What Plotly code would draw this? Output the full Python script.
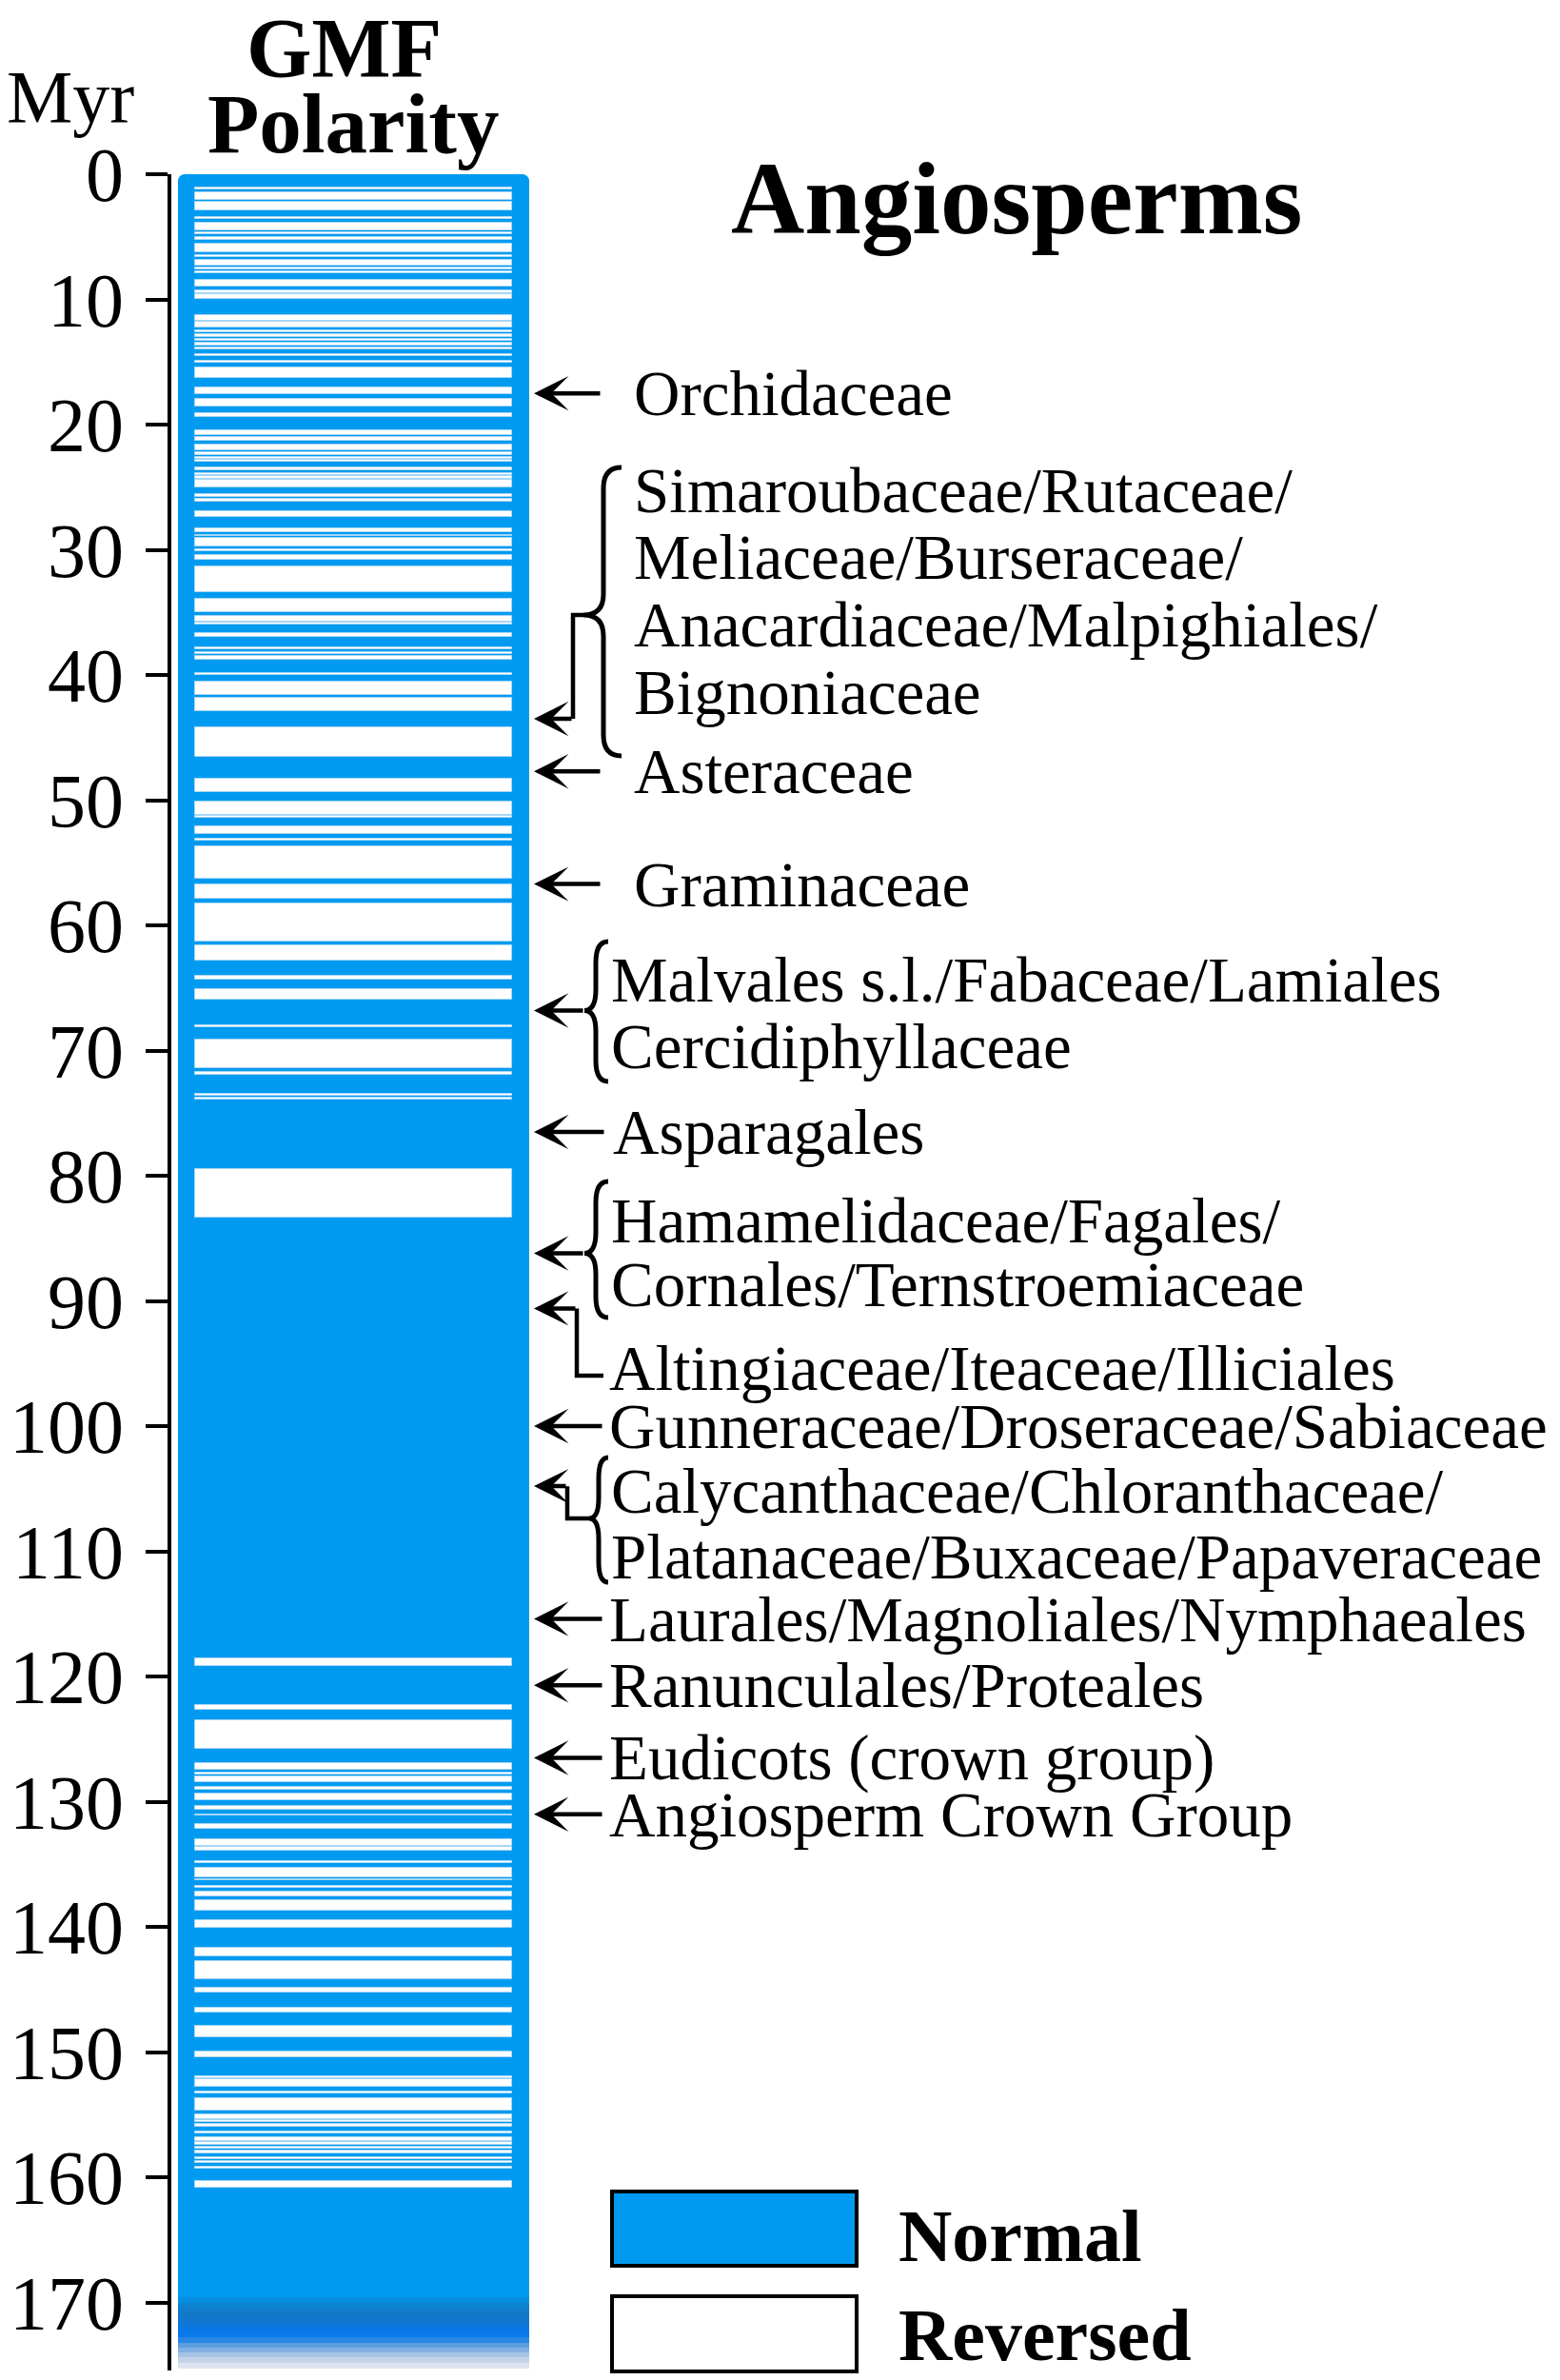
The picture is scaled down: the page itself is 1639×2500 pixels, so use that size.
import plotly.graph_objects as go

# ---------------- data ----------------
# geomagnetic polarity: reversed-polarity intervals (Myr), everything else normal
rev_start = [1.09, 1.42, 2.23, 3.45, 3.90, 4.64, 5.00, 5.55, 6.46, 6.87, 7.45, 7.78, 8.42, 9.30, 9.61,
             11.28, 11.81, 12.45, 12.75, 13.13, 13.46, 13.84, 14.35, 14.93, 15.44, 17.06, 17.95, 19.09,
             20.46, 20.96, 21.62, 22.21, 22.59, 22.79, 23.40, 23.85, 24.11, 24.44, 25.55, 25.96, 26.92,
             28.29, 28.80, 29.07, 29.96, 30.44, 31.31, 33.94, 35.26, 35.84, 36.68, 37.79, 38.17, 38.45,
             39.85, 40.51, 41.85, 44.18, 48.26, 50.09, 51.25, 52.09, 53.05, 53.71, 56.75, 58.25, 61.62,
             64.05, 65.12, 68.01, 69.15, 71.74, 73.43, 73.79, 79.49,
             118.53, 122.26, 123.50, 126.94, 127.68, 127.98, 128.82, 129.38, 130.32, 131.00, 131.79,
             133.00, 133.61, 134.75, 135.26, 136.17, 136.73, 137.16, 137.90, 139.49, 141.67, 142.74,
             144.84, 146.46, 147.93, 149.94, 151.92, 152.17, 153.13, 153.69, 155.00, 155.41, 155.74,
             156.33, 156.78, 157.19, 157.57, 157.90, 158.38, 158.71, 159.14, 160.28]
rev_end = [1.19, 2.05, 2.87, 3.57, 4.46, 4.79, 5.25, 6.21, 6.59, 7.28, 7.63, 7.93, 9.00, 9.48, 9.96,
           11.69, 12.24, 12.60, 13.00, 13.33, 13.66, 14.02, 14.52, 15.08, 16.30, 17.57, 18.58, 19.37,
           20.86, 21.27, 22.03, 22.43, 22.74, 22.94, 23.68, 24.00, 24.31, 25.04, 25.80, 26.13, 27.35,
           28.59, 28.92, 29.71, 30.09, 30.78, 33.36, 34.98, 35.72, 35.97, 36.96, 37.95, 38.30, 38.76,
           39.98, 41.57, 42.87, 46.56, 49.38, 51.18, 51.38, 52.70, 53.21, 56.25, 57.89, 61.27, 62.84,
           64.33, 65.93, 68.14, 71.41, 71.96, 73.64, 73.94, 83.37,
           119.16, 122.66, 125.80, 127.48, 127.81, 128.42, 129.07, 129.89, 130.62, 131.10, 132.14,
           133.51, 133.94, 134.88, 136.05, 136.30, 136.86, 137.57, 138.73, 140.08, 142.36, 144.21,
           145.27, 146.87, 148.84, 150.39, 152.07, 152.75, 153.33, 154.65, 155.33, 155.59, 155.97,
           156.53, 157.09, 157.39, 157.74, 158.10, 158.53, 158.86, 159.34, 160.81]
record_top = 0.0
fade_edges = [169.6, 170.0, 170.4, 170.8, 171.2, 171.6, 172.0, 172.4, 172.8, 173.2, 173.6, 174.0,
              174.4, 174.8, 175.3]
fade_colors = ["#068ee0", "#0c84d4", "#117ccc", "#1478c8", "#1277cf", "#0d77db", "#0978e6", "#0a7aea",
               "#2a88e4", "#5a9ee0", "#82b0e2", "#a8c4e4", "#c4d4e8", "#dde4ee"]
tick_vals = [0, 10, 20, 30, 40, 50, 60, 70, 80, 90, 100, 110, 120, 130, 140, 150, 160, 170]
tick_text = [str(v) for v in tick_vals]

single_labels = ["Orchidaceae", "Asteraceae", "Graminaceae", "Asparagales",
                 "Gunneraceae/Droseraceae/Sabiaceae", "Laurales/Magnoliales/Nymphaeales",
                 "Ranunculales/Proteales", "Eudicots (crown group)", "Angiosperm Crown Group"]
single_ages = [17.5, 47.7, 56.7, 76.5, 100.0, 115.4, 120.7, 126.5, 131.0]

group_a_lines = ["Simaroubaceae/Rutaceae/", "Meliaceae/Burseraceae/",
                 "Anacardiaceae/Malpighiales/", "Bignoniaceae"]
group_a_age = 43.5
group_b_lines = ["Malvales s.l./Fabaceae/Lamiales", "Cercidiphyllaceae"]
group_b_age = 66.8
group_c_lines = ["Hamamelidaceae/Fagales/", "Cornales/Ternstroemiaceae"]
group_c_age = 86.2
alt_label = "Altingiaceae/Iteaceae/Illiciales"
alt_age = 90.6
group_d_lines = ["Calycanthaceae/Chloranthaceae/", "Platanaceae/Buxaceae/Papaveraceae"]
group_d_age = 104.8

# ---------------- layout helpers ----------------
W, H = 1639, 2500
Y0, K = 183.0, 13.15          # pixel of 0 Myr, pixels per Myr
AX_BOTTOM = 2490
AX_X = 178
COL_X, COL_W, REV_W = 371.5, 369, 333
BLUE = "#009bf0"
SERIF = "Liberation Serif"


def PX(x):
    return x / W


def PY(y):
    return 1 - y / H


def py_of(t):
    return Y0 + K * t


fig = go.Figure()

# normal polarity column
fig.add_trace(go.Bar(x=[COL_X], base=[record_top], y=[fade_edges[0] - record_top], width=[COL_W],
                     marker=dict(color=BLUE, line=dict(width=0)), hoverinfo="skip"))
# fading base of the record
fig.add_trace(go.Bar(x=[COL_X] * (len(fade_edges) - 1), base=fade_edges[:-1],
                     y=[b - a for a, b in zip(fade_edges[:-1], fade_edges[1:])], width=COL_W,
                     marker=dict(color=fade_colors, line=dict(width=0)), hoverinfo="skip"))
# reversed intervals
fig.add_trace(go.Bar(x=[COL_X] * len(rev_start), base=rev_start,
                     y=[e - s for s, e in zip(rev_start, rev_end)], width=REV_W,
                     marker=dict(color="white", line=dict(color="#a6d6f5", width=1)),
                     hoverinfo="skip"))

ann = []
shapes = []
TF = dict(family=SERIF, size=67, color="black")


def text(x, y, s, font=TF, xanchor="left", yanchor="middle"):
    ann.append(dict(x=PX(x), y=PY(y), xref="paper", yref="paper", text=s, showarrow=False,
                    xanchor=xanchor, yanchor=yanchor, font=font))


def arrow(age, tail_px, tip_px=561):
    ann.append(dict(x=PX(tip_px), y=age, xref="paper", yref="y", text="", showarrow=True,
                    ax=tail_px - tip_px, ay=0, axref="pixel", ayref="pixel", arrowhead=3,
                    arrowsize=1.35, arrowwidth=4.5, arrowcolor="black", standoff=0, startstandoff=0,
                    font=dict(size=1)))


def path(points, width=4.5):
    d = "M " + " L ".join(f"{PX(x):.5f},{PY(y):.5f}" for x, y in points)
    shapes.append(dict(type="path", path=d, xref="paper", yref="paper",
                       line=dict(color="black", width=width)))


def brace(xt, xs, xe, yt, ym, yb):
    r = min(22, (yb - yt) / 6)

    def p(x, y):
        return f"{PX(x):.5f},{PY(y):.5f}"
    d = (f"M {p(xe, yt)} Q {p(xs, yt)} {p(xs, yt + r)} L {p(xs, ym - r)} "
         f"Q {p(xs, ym)} {p(xt, ym)} Q {p(xs, ym)} {p(xs, ym + r)} L {p(xs, yb - r)} "
         f"Q {p(xs, yb)} {p(xe, yb)}")
    shapes.append(dict(type="path", path=d, xref="paper", yref="paper",
                       line=dict(color="black", width=5)))


def corner_mask(x0, y0, dx, dy, r=10):
    def p(x, y):
        return f"{PX(x):.5f},{PY(y):.5f}"
    d = f"M {p(x0, y0)} L {p(x0 + dx * r, y0)} Q {p(x0, y0)} {p(x0, y0 + dy * r)} Z"
    shapes.append(dict(type="path", path=d, xref="paper", yref="paper", layer="above",
                       fillcolor="white", line=dict(width=0)))


# rounded top corners of the column
corner_mask(COL_X - COL_W / 2 - 0.5, Y0 - 0.5, 1, 1)
corner_mask(COL_X + COL_W / 2 + 0.5, Y0 - 0.5, -1, 1)

# single labels
single_text_x = [664, 664, 664, 642, 638, 638, 638, 638, 638]
single_tail_x = [632, 632, 632, 636, 634, 634, 634, 634, 634]
for lab, age, tx, tl in zip(single_labels, single_ages, single_text_x, single_tail_x):
    arrow(age, tl)
    text(tx, py_of(age), lab)

# group A
ya = [515, 585, 656, 727]
for s, y in zip(group_a_lines, ya):
    text(664, y, s)
brace(613, 634, 653, 491, 646, 794)
path([(613, 646), (602, 646), (602, py_of(group_a_age))])
arrow(group_a_age, 602)

# group B
mb = py_of(group_b_age)
for s, y in zip(group_b_lines, [1029, 1099]):
    text(640, y, s)
brace(614, 626, 639, 989, mb, 1136)
arrow(group_b_age, 614)

# group C
mc = py_of(group_c_age)
for s, y in zip(group_c_lines, [1282, 1349]):
    text(640, y, s)
brace(614, 626, 639, 1241, mc, 1384)
arrow(group_c_age, 614)

# Altingiaceae
yalt = py_of(alt_age)
arrow(alt_age, 606)
path([(606, yalt), (606, 1445), (634, 1445)])
text(638, 1437, alt_label)

# group D
yd = py_of(group_d_age)
for s, y in zip(group_d_lines, [1566, 1635]):
    text(640, y, s)
brace(619, 629, 639, 1531, 1595, 1662)
path([(596, yd), (596, 1595), (619, 1595)])
arrow(group_d_age, 596)

# titles
text(74, 102, "Myr", font=dict(family=SERIF, size=78, color="black"), xanchor="center")
text(361, 0, "<b>GMF</b>", font=dict(family=SERIF, size=88, color="black"), xanchor="center",
     yanchor="top")
text(371, 130, "<b>Polarity</b>", font=dict(family=SERIF, size=89, color="black"), xanchor="center")
text(1068, 209, "<b>Angiosperms</b>", font=dict(family=SERIF, size=107, color="black"), xanchor="center")

# legend
shapes.append(dict(type="rect", xref="paper", yref="paper", x0=PX(643), x1=PX(900), y0=PY(2380), y1=PY(2302),
                   fillcolor=BLUE, line=dict(color="black", width=4)))
shapes.append(dict(type="rect", xref="paper", yref="paper", x0=PX(643), x1=PX(900), y0=PY(2491), y1=PY(2412),
                   fillcolor="white", line=dict(color="black", width=4)))
LF = dict(family=SERIF, size=78, color="black")
text(942, 2348, "<b>Normal</b>", font=LF)
text(942, 2452, "<b>Reversed</b>", font=LF)

fig.update_layout(
    template="none",
    width=W, height=H,
    margin=dict(l=0, r=0, t=0, b=0),
    paper_bgcolor="white", plot_bgcolor="white",
    barmode="overlay", bargap=0, showlegend=False,
    xaxis=dict(range=[0, W], domain=[0, 1], visible=False, fixedrange=True),
    yaxis=dict(domain=[1 - AX_BOTTOM / H, 1 - Y0 / H], range=[(AX_BOTTOM - Y0) / K, 0],
               anchor="free", position=AX_X / W, side="left",
               showline=True, linecolor="black", linewidth=4,
               ticks="outside", ticklen=23, tickwidth=4, tickcolor="black",
               tickmode="array", tickvals=tick_vals, ticktext=tick_text,
               tickfont=dict(family=SERIF, size=80, color="black"), ticklabelstandoff=7,
               showgrid=False, zeroline=False, automargin=False, fixedrange=True),
    annotations=ann, shapes=shapes,
)

fig.write_html("out.html", config={"displayModeBar": False},
               post_script="document.body.style.margin='0';")
